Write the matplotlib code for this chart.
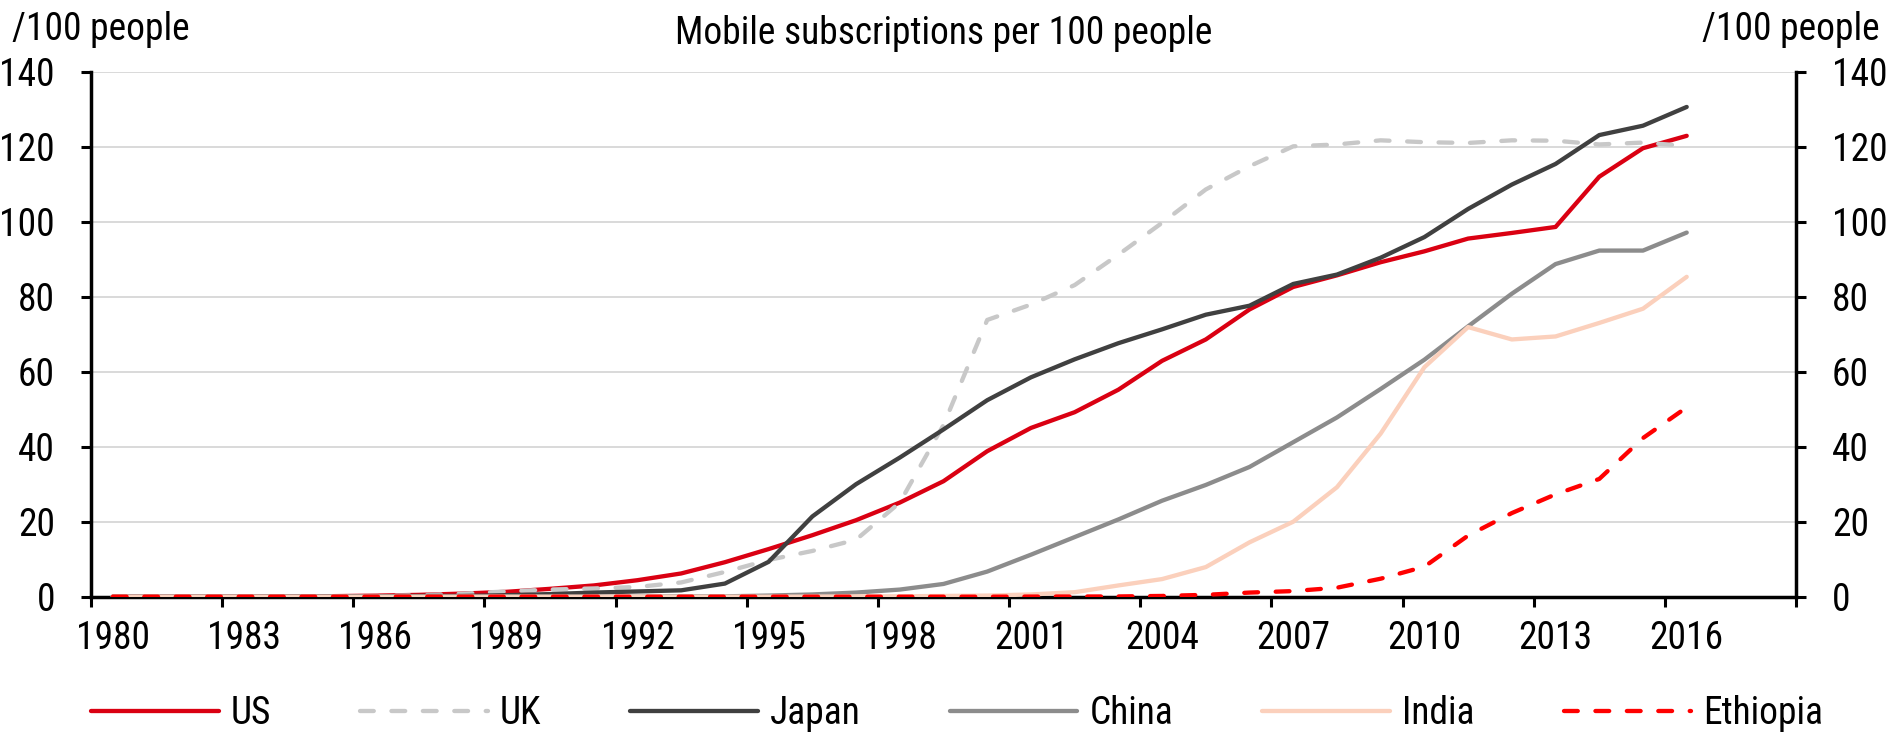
import matplotlib
matplotlib.use("Agg")
import matplotlib.pyplot as plt
import numpy as np

plt.rcParams['font.family'] = ['Liberation Sans Narrow', 'Roboto Condensed',
                               'Open Sans Condensed', 'Liberation Sans']
plt.rcParams['font.stretch'] = 'condensed'

years = list(range(1980, 2017))

us = [0, 0, 0, 0.004, 0.04, 0.14, 0.28, 0.49, 0.83, 1.3, 2.1, 3.0, 4.4, 6.2, 9.2, 12.7,
      16.4, 20.4, 25.1, 30.8, 38.8, 45.0, 49.2, 55.2, 62.9, 68.6, 76.6, 82.6, 85.7,
      89.2, 92.1, 95.5, 97.0, 98.6, 112.0, 119.6, 122.9]
uk = [0, 0, 0, 0, 0, 0.1, 0.2, 0.4, 0.8, 1.4, 1.9, 2.2, 2.6, 3.8, 6.6, 9.8,
      12.2, 15.2, 25.1, 45.8, 73.8, 77.9, 83.1, 91.2, 99.7, 108.6, 114.8, 120.1, 120.6,
      121.7, 121.2, 121.0, 121.7, 121.6, 120.6, 121.1, 120.2]
japan = [0, 0, 0, 0, 0.05, 0.08, 0.1, 0.2, 0.2, 0.4, 0.7, 1.1, 1.4, 1.7, 3.5, 9.3,
         21.4, 30.0, 37.1, 44.6, 52.4, 58.5, 63.3, 67.6, 71.3, 75.2, 77.6, 83.4, 85.9,
         90.4, 95.9, 103.4, 109.9, 115.4, 123.1, 125.6, 130.6]
china = [0, 0, 0, 0, 0, 0, 0, 0, 0, 0, 0, 0, 0, 0.1, 0.1, 0.3,
         0.6, 1.1, 1.9, 3.4, 6.7, 11.2, 15.9, 20.6, 25.6, 29.8, 34.6, 41.2, 47.8,
         55.4, 63.2, 72.1, 80.8, 88.7, 92.3, 92.3, 97.1]
india = [0, 0, 0, 0, 0, 0, 0, 0, 0, 0, 0, 0, 0, 0, 0, 0,
         0.03, 0.09, 0.1, 0.2, 0.3, 0.6, 1.2, 3.0, 4.7, 7.9, 14.5, 20.0, 29.2,
         43.5, 61.2, 71.9, 68.6, 69.4, 73.0, 76.8, 85.3]
ethiopia = [0, 0, 0, 0, 0, 0, 0, 0, 0, 0, 0, 0, 0, 0, 0, 0,
            0, 0, 0, 0, 0, 0.03, 0.05, 0.07, 0.2, 0.5, 1.1, 1.5, 2.4,
            4.8, 8.0, 16.3, 22.3, 27.3, 31.4, 42.3, 50.5]

series = [
    ("US", us, "#DA0012", None),
    ("UK", uk, "#C8C8C8", (3.2, 4.1)),
    ("Japan", japan, "#404040", None),
    ("China", china, "#8C8C8C", None),
    ("India", india, "#FBD0BC", None),
    ("Ethiopia", ethiopia, "#FF0000", (3.2, 4.1)),
]

y_ticks = list(range(0, 141, 20))
x_label_years = list(range(1980, 2017, 3))

W, H = 1894, 733
fig = plt.figure(figsize=(W / 100, H / 100), dpi=100)
ax = fig.add_axes([91 / W, (H - 596.7) / H, (1796 - 91) / W, (596.7 - 71.7) / H])

FS = 27
LW = 3.1

for name, vals, col, dash in series:
    if dash is None:
        ax.plot(years, vals, color=col, lw=LW, label=name, zorder=3,
                solid_capstyle='round', solid_joinstyle='round')
    else:
        ax.plot(years, vals, color=col, lw=LW, label=name, zorder=3,
                dashes=dash, dash_capstyle='round', dash_joinstyle='round')

ax.set_xlim(1979.5, 2018.5)
ax.set_ylim(0, 140)

# category-style axis: tick marks on boundaries, labels centred on years
ax.set_xticks(np.arange(1979.5, 2019, 3))
ax.set_xticklabels([])
ax.set_xticks(x_label_years, minor=True)
ax.set_xticklabels([str(y) for y in x_label_years], minor=True)
ax.tick_params(axis='x', which='major', direction='out', length=7.5, width=2.2,
               color='black')
ax.tick_params(axis='x', which='minor', length=0, pad=17, labelsize=FS)

ax.set_yticks(y_ticks)
ax.tick_params(axis='y', which='major', direction='out', length=7.5, width=2.2,
               left=True, right=True, labelleft=True, labelright=True,
               pad=18.5, labelsize=FS)

ax.grid(axis='y', color='#D9D9D9', lw=1.4, zorder=0)
ax.set_axisbelow(True)

for side in ('left', 'right', 'bottom'):
    ax.spines[side].set_linewidth(2.5)
    ax.spines[side].set_color('black')
    ax.spines[side].set_zorder(2.5)
ax.spines['top'].set_visible(False)

fig.text((91 + 1796) / 2 / W, 1 - 34 / H, "Mobile subscriptions per 100 people",
         ha='center', va='center', fontsize=FS)
fig.text(12 / W, 1 - 30 / H, "/100 people", ha='left', va='center', fontsize=FS)
fig.text(1880 / W, 1 - 30 / H, "/100 people", ha='right', va='center', fontsize=FS)

fig.legend(loc='center left', bbox_to_anchor=(91 / W, 1 - 714 / H), ncol=6,
           frameon=False, fontsize=FS, handlelength=3.4, handletextpad=0.33,
           columnspacing=2.37, borderpad=0, borderaxespad=0)

fig.savefig("out.png", dpi=100)
